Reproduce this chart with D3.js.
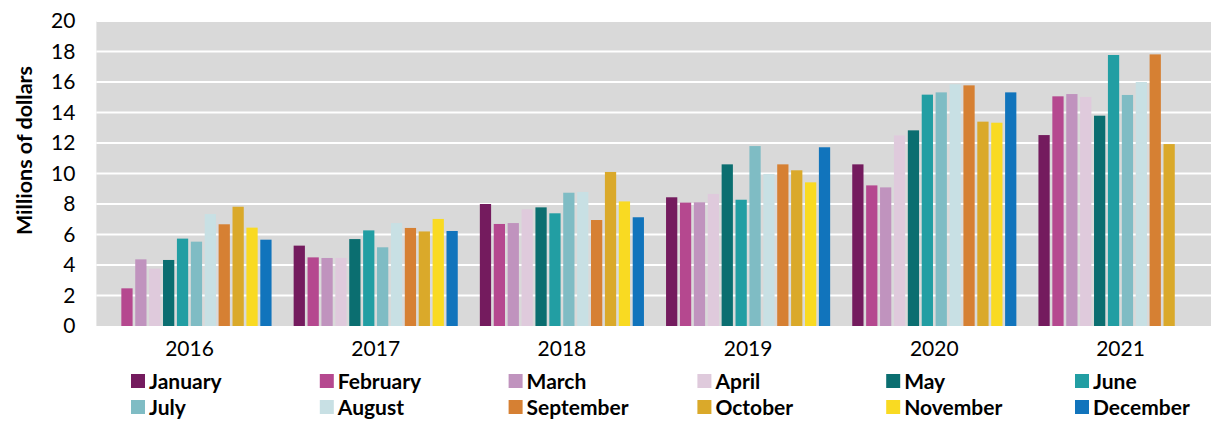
<!DOCTYPE html>
<html>
<head>
<meta charset="utf-8">
<script src="https://cdn.jsdelivr.net/npm/d3@7"></script>
<style>
  html, body { margin: 0; padding: 0; background: #ffffff; }
  svg { display: block; font-family: Lato, "Open Sans", sans-serif; }
</style>
</head>
<body>
<svg id="chart" width="1211" height="421"></svg>
<script>
// Monthly revenue, millions of dollars (null = no data for that month)
const years = ["2016", "2017", "2018", "2019", "2020", "2021"];
const months = ["January", "February", "March", "April", "May", "June",
                "July", "August", "September", "October", "November", "December"];
const monthColors = ["#741b5e", "#b5488f", "#c093be", "#dfcadc", "#0b6e70", "#229ea3",
                     "#7fbcc4", "#c8e0e4", "#d68033", "#daa92a", "#f9da22", "#1174bc"];

const values2016 = [null, 2.47, 4.37, 3.76, 4.33, 5.73, 5.53, 7.34, 6.67, 7.82, 6.45, 5.66];
const values2017 = [5.27, 4.50, 4.46, 4.46, 5.70, 6.27, 5.16, 6.75, 6.43, 6.20, 7.02, 6.23];
const values2018 = [8.00, 6.69, 6.75, 7.65, 7.78, 7.39, 8.74, 8.79, 6.95, 10.10, 8.17, 7.13];
const values2019 = [8.44, 8.09, 8.11, 8.66, 10.60, 8.28, 11.80, 9.97, 10.60, 10.21, 9.42, 11.72];
const values2020 = [10.60, 9.22, 9.09, 12.50, 12.83, 15.17, 15.32, 15.85, 15.78, 13.40, 13.33, 15.32];
const values2021 = [12.52, 15.06, 15.21, 15.02, 13.79, 17.77, 15.15, 16.00, 17.81, 11.93, null, null];

const yTicks = [0, 2, 4, 6, 8, 10, 12, 14, 16, 18, 20];
const yTitle = "Millions of dollars";

const seriesByYear = [values2016, values2017, values2018, values2019, values2020, values2021];
const rows = years.map((yr, i) => ({
  year: yr,
  bars: months.map((m, j) => ({ month: m, color: monthColors[j], value: seriesByYear[i][j] }))
}));

const svg = d3.select("#chart");
const plot = { left: 96.4, top: 21, bottom: 326, groupWidth: 186.2 };
plot.right = plot.left + plot.groupWidth * years.length;

const x0 = d3.scaleBand().domain(years).range([plot.left, plot.right]).padding(0);
const x1 = d3.scaleBand().domain(months).range([0, x0.bandwidth()])
  .paddingInner(0.19).paddingOuter(0.795);
const y = d3.scaleLinear().domain([0, 20]).range([plot.bottom, plot.top]);

// Plot background
svg.append("rect")
  .attr("x", plot.left).attr("y", plot.top)
  .attr("width", plot.right - plot.left).attr("height", plot.bottom - plot.top)
  .attr("fill", "#d9d9d9");

// Horizontal gridlines
svg.append("g")
  .selectAll("line")
  .data(yTicks.filter(t => t > 0))
  .join("line")
  .attr("x1", plot.left).attr("x2", plot.right)
  .attr("y1", d => y(d)).attr("y2", d => y(d))
  .attr("stroke", "#ffffff").attr("stroke-width", 2);

// Bars
svg.append("g")
  .selectAll("g")
  .data(rows)
  .join("g")
  .attr("transform", d => `translate(${x0(d.year)},0)`)
  .selectAll("rect")
  .data(d => d.bars.filter(b => b.value !== null))
  .join("rect")
  .attr("x", d => x1(d.month))
  .attr("width", x1.bandwidth())
  .attr("y", d => y(d.value))
  .attr("height", d => y(0) - y(d.value))
  .attr("fill", d => d.color);

// Y axis
const yAxis = svg.append("g")
  .attr("transform", `translate(${plot.left},0)`)
  .call(d3.axisLeft(y).tickValues(yTicks).tickSize(0).tickPadding(21));
yAxis.select(".domain").remove();
yAxis.selectAll("text")
  .attr("font-size", 21).attr("fill", "#000").attr("font-family", "Lato, sans-serif");

// X axis
const xAxis = svg.append("g")
  .attr("transform", `translate(0,${plot.bottom})`)
  .call(d3.axisBottom(x0).tickSize(0).tickPadding(15));
xAxis.select(".domain").remove();
xAxis.selectAll("text")
  .attr("font-size", 21).attr("fill", "#000").attr("font-family", "Lato, sans-serif");

// Y axis title
svg.append("text")
  .attr("transform", `translate(32,${(plot.top + plot.bottom) / 2 - 23}) rotate(-90)`)
  .attr("text-anchor", "middle")
  .attr("font-size", 21.5).attr("font-weight", "bold")
  .text(yTitle);

// Legend: two rows of six
const legendX = d3.scalePoint().domain(d3.range(6)).range([131, 131 + 188.8 * 5]);
const legendRowY = [381, 407];
const legend = svg.append("g")
  .selectAll("g")
  .data(months.map((m, i) => ({ month: m, color: monthColors[i], col: i % 6, row: Math.floor(i / 6) })))
  .join("g")
  .attr("transform", d => `translate(${legendX(d.col)},${legendRowY[d.row]})`);
legend.append("rect")
  .attr("x", 0).attr("y", -7).attr("width", 14).attr("height", 14)
  .attr("fill", d => d.color);
legend.append("text")
  .attr("x", 18).attr("dy", "0.36em")
  .attr("font-size", 21).attr("font-weight", "bold")
  .text(d => d.month);
</script>
</body>
</html>
